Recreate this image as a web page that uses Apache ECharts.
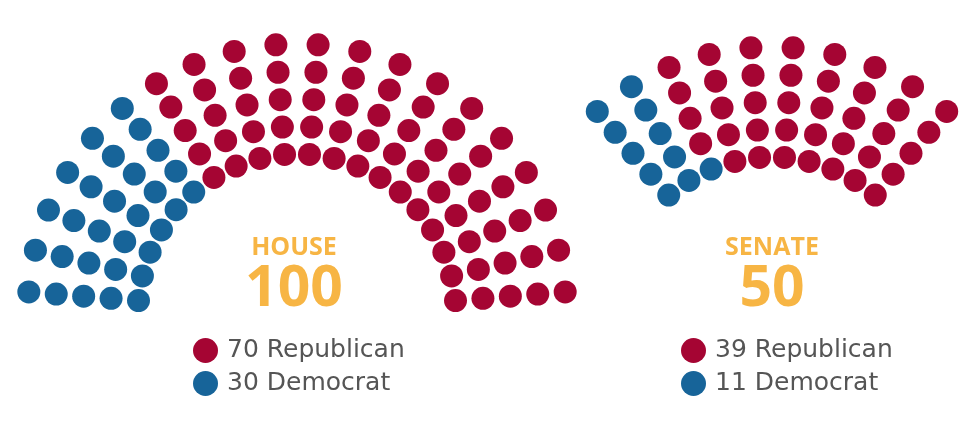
<!DOCTYPE html>
<html>
<head>
<meta charset="utf-8">
<script src="https://cdn.jsdelivr.net/npm/echarts@6/dist/echarts.min.js"></script>
<style>
  html, body { margin: 0; padding: 0; background: #fff; }
  #chart { width: 980px; height: 439px; }
</style>
</head>
<body>
<div id="chart"></div>
<script>
// seat counts, Republican first, Democrat second
const parties = ['Republican', 'Democrat'];
const partyColors = ['#a50533', '#176499'];
const chambers = ['HOUSE', 'SENATE'];
const houseSeats = [70, 30];
const senateSeats = [39, 11];
const houseColumns = 20;
const senateColumns = 10;
const seatRows = 5;

// layout of the arcs (pixels / degrees)
const innerRadius = 159;
const rowStep = 27.5;
const columnStep = 9;
const titleFont = '"Open Sans", Lato, sans-serif';
const legendFont = '"DejaVu Sans", "Open Sans", sans-serif';

// seats ordered from the left-most column, inner row to outer row
function seatSlots(columns) {
  const slots = [];
  const firstAngle = 90 + ((columns - 1) / 2) * columnStep;
  for (let c = 0; c < columns; c++) {
    for (let r = 0; r < seatRows; r++) {
      slots.push([innerRadius + r * rowStep, firstAngle - c * columnStep]);
    }
  }
  return slots;
}

function chamberSeries(seats, columns, polarIndex, label) {
  const slots = seatSlots(columns);
  const dem = seats[1];
  return [
    {
      name: label + ' Republican',
      type: 'scatter',
      coordinateSystem: 'polar',
      polarIndex: polarIndex,
      symbolSize: 23,
      itemStyle: { color: partyColors[0], opacity: 1 },
      data: slots.slice(dem),
    },
    {
      name: label + ' Democrat',
      type: 'scatter',
      coordinateSystem: 'polar',
      polarIndex: polarIndex,
      symbolSize: 23,
      itemStyle: { color: partyColors[1], opacity: 1 },
      data: slots.slice(0, dem),
    },
  ];
}

function legendFor(label, seats, left) {
  return {
    data: [label + ' Republican', label + ' Democrat'],
    orient: 'vertical',
    left: left,
    top: 333,
    icon: 'circle',
    itemWidth: 25,
    itemHeight: 25,
    itemGap: 8,
    selectedMode: false,
    formatter: function (name) {
      const i = name.endsWith('Republican') ? 0 : 1;
      return seats[i] + ' ' + parties[i];
    },
    itemStyle: { opacity: 1 },
    textStyle: { fontSize: 25, color: '#555', fontFamily: legendFont, padding: [0, 0, 0, 4] },
  };
}

function sum(a) {
  return a.reduce((s, v) => s + v, 0);
}

const chart = echarts.init(document.getElementById('chart'));
chart.setOption({
  animation: false,
  polar: [
    { center: [297, 313], radius: [0, 269] },
    { center: [772, 316], radius: [0, 269] },
  ],
  angleAxis: [
    { polarIndex: 0, min: 0, max: 360, startAngle: 0, clockwise: false, show: false },
    { polarIndex: 1, min: 0, max: 360, startAngle: 0, clockwise: false, show: false },
  ],
  radiusAxis: [
    { polarIndex: 0, min: 0, max: 269, show: false },
    { polarIndex: 1, min: 0, max: 269, show: false },
  ],
  legend: [legendFor('House', houseSeats, 188), legendFor('Senate', senateSeats, 676)],
  graphic: [
    {
      type: 'text', x: 294, y: 248,
      style: { text: chambers[0], fill: '#f7b544', font: 'bold 25px ' + titleFont, textAlign: 'center', textVerticalAlign: 'middle' },
    },
    {
      type: 'text', x: 294, y: 290,
      style: { text: String(sum(houseSeats)), fill: '#f7b544', font: 'bold 57px ' + titleFont, textAlign: 'center', textVerticalAlign: 'middle' },
    },
    {
      type: 'text', x: 772, y: 248,
      style: { text: chambers[1], fill: '#f7b544', font: 'bold 25px ' + titleFont, textAlign: 'center', textVerticalAlign: 'middle' },
    },
    {
      type: 'text', x: 772, y: 290,
      style: { text: String(sum(senateSeats)), fill: '#f7b544', font: 'bold 57px ' + titleFont, textAlign: 'center', textVerticalAlign: 'middle' },
    },
  ],
  series: [
    ...chamberSeries(houseSeats, houseColumns, 0, 'House'),
    ...chamberSeries(senateSeats, senateColumns, 1, 'Senate'),
  ],
});
</script>
</body>
</html>
